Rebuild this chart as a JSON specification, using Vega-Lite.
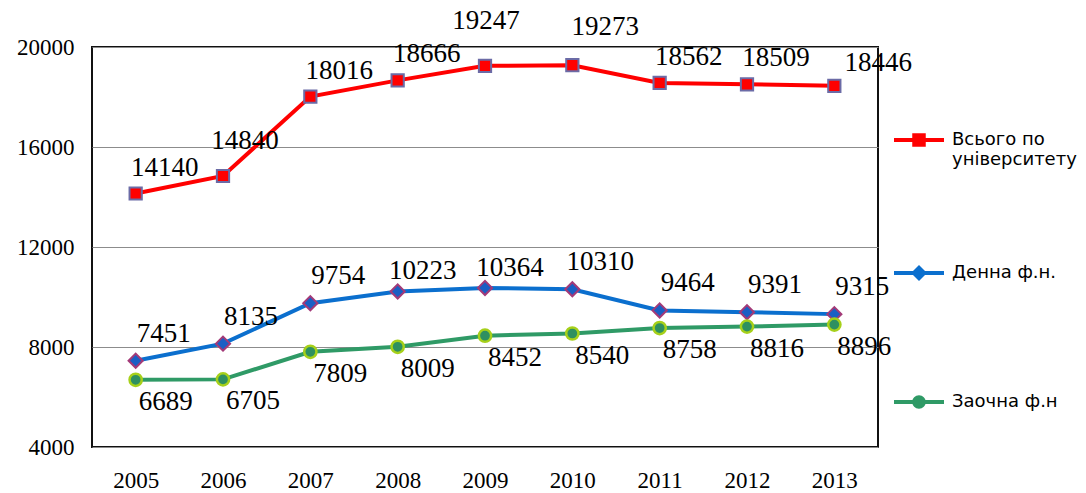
{
  "$schema": "https://vega.github.io/schema/vega-lite/v6.json",
  "width": 786,
  "height": 400,
  "autosize": {"type": "none"},
  "padding": {"left": 92, "top": 47, "right": 208, "bottom": 46},
  "config": {"view": {"stroke": "#111", "strokeWidth": 2}},
  "data": {
    "values": [
      {"year": "2005", "series": "Всього по університету", "value": 14140},
      {"year": "2006", "series": "Всього по університету", "value": 14840},
      {"year": "2007", "series": "Всього по університету", "value": 18016},
      {"year": "2008", "series": "Всього по університету", "value": 18666},
      {"year": "2009", "series": "Всього по університету", "value": 19247},
      {"year": "2010", "series": "Всього по університету", "value": 19273},
      {"year": "2011", "series": "Всього по університету", "value": 18562},
      {"year": "2012", "series": "Всього по університету", "value": 18509},
      {"year": "2013", "series": "Всього по університету", "value": 18446},
      {"year": "2005", "series": "Денна ф.н.", "value": 7451},
      {"year": "2006", "series": "Денна ф.н.", "value": 8135},
      {"year": "2007", "series": "Денна ф.н.", "value": 9754},
      {"year": "2008", "series": "Денна ф.н.", "value": 10223},
      {"year": "2009", "series": "Денна ф.н.", "value": 10364},
      {"year": "2010", "series": "Денна ф.н.", "value": 10310},
      {"year": "2011", "series": "Денна ф.н.", "value": 9464},
      {"year": "2012", "series": "Денна ф.н.", "value": 9391},
      {"year": "2013", "series": "Денна ф.н.", "value": 9315},
      {"year": "2005", "series": "Заочна ф.н", "value": 6689},
      {"year": "2006", "series": "Заочна ф.н", "value": 6705},
      {"year": "2007", "series": "Заочна ф.н", "value": 7809},
      {"year": "2008", "series": "Заочна ф.н", "value": 8009},
      {"year": "2009", "series": "Заочна ф.н", "value": 8452},
      {"year": "2010", "series": "Заочна ф.н", "value": 8540},
      {"year": "2011", "series": "Заочна ф.н", "value": 8758},
      {"year": "2012", "series": "Заочна ф.н", "value": 8816},
      {"year": "2013", "series": "Заочна ф.н", "value": 8896}
    ]
  },
  "encoding": {
    "x": {"field": "year", "type": "ordinal", "scale": {"type": "point", "padding": 0.5},
      "axis": {"title": null, "labelAngle": 0, "labelFont": "Times New Roman", "labelColor": "#000", "labelFontSize": 23, "labelPadding": 22, "grid": false, "ticks": false, "domain": false}},
    "y": {"field": "value", "type": "quantitative", "scale": {"domain": [4000, 20000], "nice": false, "zero": false},
      "axis": {"title": null, "values": [4000, 8000, 12000, 16000, 20000], "format": "d", "labelFont": "Times New Roman", "labelColor": "#000", "labelFontSize": 23, "labelPadding": 18, "ticks": false, "domain": false, "gridColor": "#8c8c8c", "gridWidth": 1}}
  },
  "layer": [
    {
      "transform": [{"filter": "datum.series == 'Всього по університету'"}],
      "mark": {"type": "line", "strokeWidth": 4, "color": "#ff0000"},
      "encoding": {}
    },
    {
      "transform": [{"filter": "datum.series == 'Денна ф.н.'"}],
      "mark": {"type": "line", "strokeWidth": 4, "color": "#0b6fce"},
      "encoding": {}
    },
    {
      "transform": [{"filter": "datum.series == 'Заочна ф.н'"}],
      "mark": {"type": "line", "strokeWidth": 4, "color": "#2f9a66"},
      "encoding": {}
    },
    {
      "mark": {"type": "point", "filled": true, "opacity": 0, "size": 2500},
      "encoding": {
        "fill": {"field": "series", "type": "nominal",
          "scale": {"range": ["#ff0000", "#0b6fce", "#2f9a66"]},
          "legend": {"title": null, "orient": "none", "legendX": 801, "legendY": 67, "padding": 0, "rowPadding": 78,
            "symbolSize": 2500, "symbolOpacity": 1, "labelFont": "DejaVu Sans", "labelFontSize": 18, "labelColor": "#000", "labelOffset": 7,
            "labelExpr": "datum.label == 'Всього по університету' ? ['Всього по', 'університету'] : datum.label",
            "encode": {"symbols": {"update": {"opacity": {"value": 1}}}}}},
        "shape": {"field": "series", "type": "nominal",
          "scale": {"range": ["M0,-1M0,1M-1,-0.08H1V0.08H-1Z M-0.27,-0.27H0.27V0.27H-0.27Z", "M0,-1M0,1M-1,-0.08H1V0.08H-1Z M0,-0.32L0.32,0L0,0.32L-0.32,0Z", "M0,-1M0,1M-1,-0.08H1V0.08H-1Z M-0.27,0A0.27,0.27 0 1,1 0.27,0A0.27,0.27 0 1,1 -0.27,0Z"]},
          "legend": {"title": null}}
      }
    },
    {
      "transform": [{"filter": "datum.series == 'Всього по університету'"}],
      "mark": {"type": "point", "shape": "square", "filled": true, "fill": "#ff0000", "stroke": "#6b6ba6", "strokeWidth": 2, "size": 150, "opacity": 1}
    },
    {
      "transform": [{"filter": "datum.series == 'Денна ф.н.'"}],
      "mark": {"type": "point", "shape": "diamond", "filled": true, "fill": "#1a5fc4", "stroke": "#a33a78", "strokeWidth": 2, "size": 200, "opacity": 1}
    },
    {
      "transform": [{"filter": "datum.series == 'Заочна ф.н'"}],
      "mark": {"type": "point", "shape": "circle", "filled": true, "fill": "#2e9060", "stroke": "#a6d01a", "strokeWidth": 2.5, "size": 150, "opacity": 1}
    },
    {
      "transform": [{"filter": "datum.series == 'Всього по університету' && (datum.year == '2005' || datum.year == '2007' || datum.year == '2008' || datum.year == '2011' || datum.year == '2012')"}],
      "mark": {"type": "text", "font": "Times New Roman", "fontSize": 27, "dx": 29, "dy": -26},
      "encoding": {"text": {"field": "value", "type": "quantitative", "format": "d"}}
    },
    {
      "transform": [{"filter": "datum.series == 'Всього по університету' && datum.year == '2013'"}],
      "mark": {"type": "text", "font": "Times New Roman", "fontSize": 27, "dx": 44, "dy": -23},
      "encoding": {"text": {"field": "value", "type": "quantitative", "format": "d"}}
    },
    {
      "transform": [{"filter": "datum.series == 'Всього по університету' && datum.year == '2006'"}],
      "mark": {"type": "text", "font": "Times New Roman", "fontSize": 27, "dx": 22, "dy": -35},
      "encoding": {"text": {"field": "value", "type": "quantitative", "format": "d"}}
    },
    {
      "transform": [{"filter": "datum.series == 'Всього по університету' && datum.year == '2009'"}],
      "mark": {"type": "text", "font": "Times New Roman", "fontSize": 27, "dx": 1, "dy": -45},
      "encoding": {"text": {"field": "value", "type": "quantitative", "format": "d"}}
    },
    {
      "transform": [{"filter": "datum.series == 'Всього по університету' && datum.year == '2010'"}],
      "mark": {"type": "text", "font": "Times New Roman", "fontSize": 27, "dx": 33, "dy": -38},
      "encoding": {"text": {"field": "value", "type": "quantitative", "format": "d"}}
    },
    {
      "transform": [{"filter": "datum.series == 'Денна ф.н.' && datum.year != '2008' && datum.year != '2009'"}],
      "mark": {"type": "text", "font": "Times New Roman", "fontSize": 27, "dx": 28, "dy": -27},
      "encoding": {"text": {"field": "value", "type": "quantitative", "format": "d"}}
    },
    {
      "transform": [{"filter": "datum.series == 'Денна ф.н.' && (datum.year == '2008' || datum.year == '2009')"}],
      "mark": {"type": "text", "font": "Times New Roman", "fontSize": 27, "dx": 25, "dy": -20},
      "encoding": {"text": {"field": "value", "type": "quantitative", "format": "d"}}
    },
    {
      "transform": [{"filter": "datum.series == 'Заочна ф.н'"}],
      "mark": {"type": "text", "font": "Times New Roman", "fontSize": 27, "dx": 30, "dy": 22},
      "encoding": {"text": {"field": "value", "type": "quantitative", "format": "d"}}
    }
  ]
}
